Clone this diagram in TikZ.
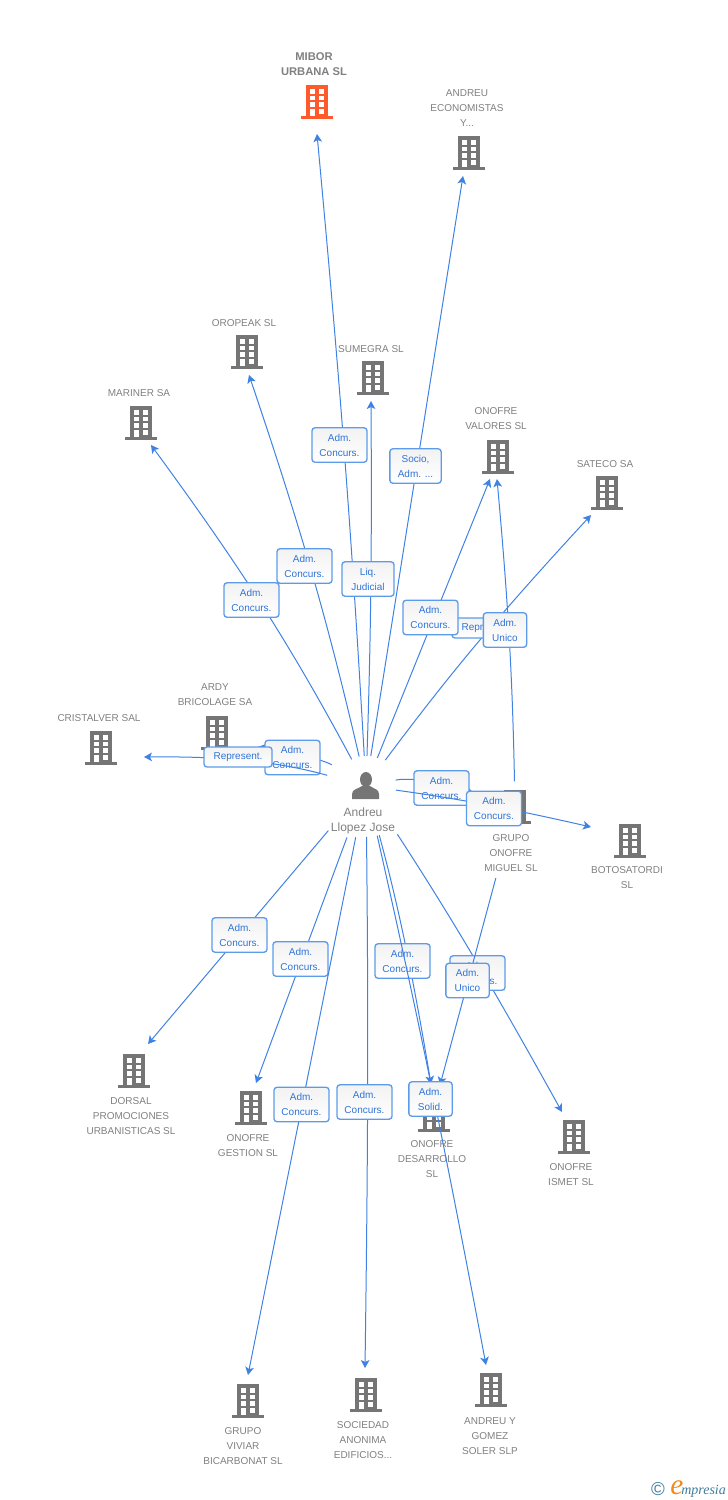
\documentclass[tikz,border=0pt]{standalone}
\usepackage{fontspec}
\setmainfont{Liberation Sans}
\newfontfamily\logofont{Liberation Serif}
\usetikzlibrary{arrows.meta}
\definecolor{linkblue}{HTML}{3F82E3}
\definecolor{boxblue}{HTML}{5C9BEA}
\definecolor{txtblue}{HTML}{2F74D8}
\definecolor{bldgray}{HTML}{757575}
\definecolor{txtgray}{HTML}{808080}
\definecolor{bldred}{HTML}{FF5A2C}
\definecolor{logoblue}{HTML}{3F7C9C}
\definecolor{logoorange}{HTML}{F08A1E}
\tikzset{
    pics/building/.style={code={
        \fill[#1] (-11,-17) rectangle (11,15);
        \fill[#1] (-16,14) rectangle (16,17);
        \foreach \wy in {-13,-6.3,0.3,7} {
            \fill[white] (2.4,\wy) rectangle (7.2,\wy+4.6);
        }
        \foreach \wy in {-13,-6.3,0.3} {
            \fill[white] (-7.2,\wy) rectangle (-2.4,\wy+4.6);
        }
        \fill[white] (-7.2,6.5) rectangle (-2.4,14);
    }}
}
\begin{document}
\begin{tikzpicture}[x=0.75pt, y=-0.75pt,
        spot/.style={inner sep=0pt, minimum size=0pt},
        firm/.style={align=center, text=txtgray, font=\fontsize{7.5}{11.25}\selectfont, inner sep=0pt},
        link/.style={-{Stealth[length=6pt, width=6.5pt, inset=1.5pt]}, linkblue, line width=0.75pt},
        rel/.style={draw=boxblue, line width=1pt, rounded corners=2.2pt, top color=black!5, bottom color=white,
            text=txtblue, align=center, inner sep=0pt, minimum width=41.25pt, minimum height=25.8pt,
            font=\fontsize{7.5}{11.25}\selectfont},
        relu/.style={rel, minimum width=32.5pt},
        relr/.style={rel, minimum width=51pt, minimum height=15pt}
    ]
    \useasboundingbox (0,0) rectangle (728,1500);

    % Companies
    \node[spot] (mibor) at (317,102) {};
    \pic at (mibor) {building=bldred};
    \node[firm, font=\fontsize{8.4}{11.25}\selectfont\bfseries] (miborT) at (314,64) {MIBOR\\URBANA SL};
    \node[spot] (eco) at (469,153) {};
    \pic at (eco) {building=bldgray};
    \node[firm] (ecoT) at (467,108) {ANDREU\\ECONOMISTAS\\Y...};
    \node[spot] (oropeak) at (247,352) {};
    \pic at (oropeak) {building=bldgray};
    \node[firm] (oropeakT) at (244,323) {OROPEAK SL};
    \node[spot] (sumegra) at (373,378) {};
    \pic at (sumegra) {building=bldgray};
    \node[firm] (sumegraT) at (371,349) {SUMEGRA SL};
    \node[spot] (mariner) at (141,423) {};
    \pic at (mariner) {building=bldgray};
    \node[firm] (marinerT) at (139,393) {MARINER SA};
    \node[spot] (valores) at (498,457) {};
    \pic at (valores) {building=bldgray};
    \node[firm] (valoresT) at (496,419) {ONOFRE\\VALORES SL};
    \node[spot] (sateco) at (607,493) {};
    \pic at (sateco) {building=bldgray};
    \node[firm] (satecoT) at (605,464) {SATECO SA};
    \node[spot] (cristal) at (101,748) {};
    \pic at (cristal) {building=bldgray};
    \node[firm] (cristalT) at (99,718) {CRISTALVER SAL};
    \node[spot] (ardy) at (217,733) {};
    \pic at (ardy) {building=bldgray};
    \node[firm] (ardyT) at (215,695) {ARDY\\BRICOLAGE SA};
    \node[spot] (grupo) at (515,807) {};
    \pic at (grupo) {building=bldgray};
    \node[firm] (grupoT) at (511,853) {GRUPO\\ONOFRE\\MIGUEL SL};
    \node[spot] (botos) at (630,841) {};
    \pic at (botos) {building=bldgray};
    \node[firm] (botosT) at (627,878) {BOTOSATORDI\\SL};
    \node[spot] (dorsal) at (134,1071) {};
    \pic at (dorsal) {building=bldgray};
    \node[firm] (dorsalT) at (131,1116) {DORSAL\\PROMOCIONES\\URBANISTICAS SL};
    \node[spot] (gestion) at (251,1108) {};
    \pic at (gestion) {building=bldgray};
    \node[firm] (gestionT) at (248,1146) {ONOFRE\\GESTION SL};
    \node[spot] (desarr) at (434,1115) {};
    \pic at (desarr) {building=bldgray};
    \node[firm] (desarrT) at (432,1159) {ONOFRE\\DESARROLLO\\SL};
    \node[spot] (ismet) at (574,1137) {};
    \pic at (ismet) {building=bldgray};
    \node[firm] (ismetT) at (571,1175) {ONOFRE\\ISMET SL};
    \node[spot] (viviar) at (248,1401) {};
    \pic at (viviar) {building=bldgray};
    \node[firm] (viviarT) at (243,1446) {GRUPO\\VIVIAR\\BICARBONAT SL};
    \node[spot] (socied) at (366,1395) {};
    \pic at (socied) {building=bldgray};
    \node[firm] (sociedT) at (363,1440) {SOCIEDAD\\ANONIMA\\EDIFICIOS...};
    \node[spot] (gomez) at (491,1390) {};
    \pic at (gomez) {building=bldgray};
    \node[firm] (gomezT) at (490,1436) {ANDREU Y\\GOMEZ\\SOLER SLP};

    % Person
    \node[spot] (person) at (366,786) {};
    \fill[bldgray] (366,779.5) ellipse (6 and 7.5);
    \fill[bldgray] (352,799) -- (352,794) .. controls (352,789) and (358,789) .. (362,786)
        -- (370,786) .. controls (374,789) and (379,789) .. (379,794) -- (379,799) -- cycle;
    \node[firm, font=\fontsize{9}{11.25}\selectfont] (personT) at (363,821) {Andreu\\Llopez Jose};

    % Upper links
    \draw[link, shorten <=22.5pt] (person) to[bend right=1] ([shift={(0,32)}]mibor);
    \node[rel] (lbMibor) at (339.5,445) {Adm.\\Concurs.};
    \draw[link, shorten <=22.5pt] (person) to ([shift={(-6,23)}]eco);
    \node[rel, minimum width=38.5pt] (lbEco) at (415.5,466) {Socio,\\Adm. ...};
    \draw[link, shorten <=22.5pt] (person) to[bend right=2.8] ([shift={(2,23)}]oropeak);
    \node[rel] (lbOropeak) at (304.5,566) {Adm.\\Concurs.};
    \draw[link, shorten <=22.5pt] (person) to[bend right=1.1] ([shift={(-2,23)}]sumegra);
    \node[rel, minimum width=39pt] (lbSumegra) at (368,579) {Liq.\\Judicial};
    \draw[link, shorten <=22.5pt] (person) to[bend right=4] ([shift={(10,22)}]mariner);
    \node[rel] (lbMariner) at (251.5,600) {Adm.\\Concurs.};
    \draw[link, shorten <=24pt] (person) to[bend left=3] ([shift={(-16,22)}]sateco);
    \node[relr] (lbSateco) at (486,628) {Represent.};
    \draw[link, shorten <=22.5pt] (person) to ([shift={(-8,22)}]valores);
    \node[rel] (lbValores) at (430.5,617.5) {Adm.\\Concurs.};
    \draw[link, shorten <=19pt] (grupo) to[bend right=2] ([shift={(-1,22)}]valores);
    \node[relu] (lbValores2) at (505,630) {Adm.\\Unico};

    % Side links
    \draw[link, shorten <=30pt] (person) to[bend right=12] ([shift={(41,14)}]ardy);
    \node[rel] (lbArdy) at (292.5,757.5) {Adm.\\Concurs.};
    \draw[link, shorten <=30pt] (person) to[bend right=8] ([shift={(43,9)}]cristal);
    \node[relr] (lbCristal) at (238,757) {Represent.};
    \draw[link, shorten <=22.5pt] (person) to[bend left=16] ([shift={(-40,-12)}]grupo);
    \node[rel] (lbGrupo) at (441.5,788) {Adm.\\Concurs.};
    \draw[link, shorten <=22.5pt] (person) to[bend left=2.5] ([shift={(-39,-14)}]botos);
    \node[rel] (lbBotos) at (494,808.5) {Adm.\\Concurs.};

    % Lower links
    \draw[link, shorten <=43.5pt] (person) to ([shift={(14,-27)}]dorsal);
    \node[rel] (lbDorsal) at (239.5,935) {Adm.\\Concurs.};
    \draw[link, shorten <=41pt] (person) to ([shift={(5,-25)}]gestion);
    \node[rel] (lbGestion) at (300.5,959) {Adm.\\Concurs.};
    \draw[link, shorten <=39pt] (person) to ([shift={(0,-26)}]viviar);
    \node[rel] (lbViviar) at (301.5,1104.5) {Adm.\\Concurs.};
    \draw[link, shorten <=38pt] (person) to[bend left=0.7] ([shift={(-1,-27)}]socied);
    \node[rel] (lbSocied) at (364.5,1102) {Adm.\\Concurs.};
    \draw[link, shorten <=38pt] (person) to[bend left=2.8] ([shift={(-3,-31)}]desarr);
    \node[rel] (lbDesarr) at (402.5,961) {Adm.\\Concurs.};
    \draw[link, shorten <=43pt] (person) to[bend left=2] ([shift={(-12,-25)}]ismet);
    \node[rel] (lbIsmet) at (477.5,973) {Adm.\\Concurs.};
    \draw[link, shorten <=55pt] (grupo) to ([shift={(6,-30)}]desarr);
    \node[relu] (lbDesarr2) at (467.5,980.5) {Adm.\\Unico};
    \draw[link, shorten <=38pt] (person) to[bend left=1] ([shift={(-5,-25)}]gomez);
    \node[relu] (lbGomez) at (430.5,1099) {Adm.\\Solid.};

    % Logo
    \node[inner sep=0pt, text=logoblue, font=\fontsize{14}{14}\selectfont] (logoC) at (658,1489) {©};
    \node[inner sep=0pt, anchor=base west, text=logoblue, font=\fontsize{10.5}{12}\logofont\itshape] (logoE) at (670,1494)
        {\textcolor{logoorange}{\fontsize{22}{12}\selectfont e}\kern-1.5pt mpresia};
\end{tikzpicture}
\end{document}
